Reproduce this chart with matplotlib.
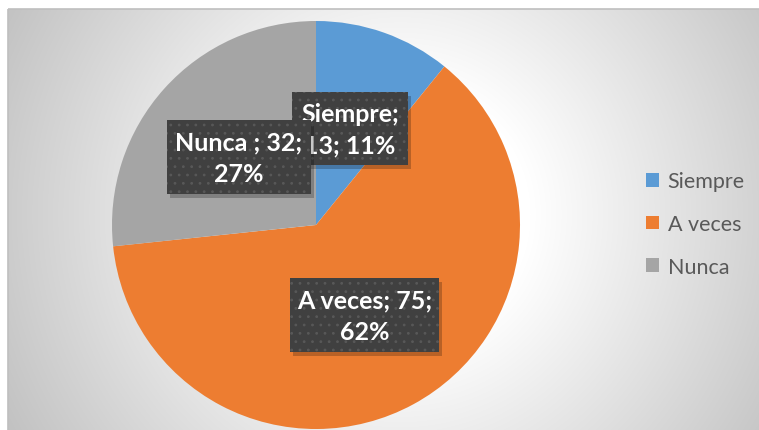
import numpy as np
import matplotlib
matplotlib.use('Agg')
import matplotlib.pyplot as plt
from matplotlib.patches import Rectangle

categorias = ['Siempre', 'A veces', 'Nunca']
valores = [13, 75, 32]
porcentajes = [11, 62, 27]
etiquetas = ['Siempre;\n13; 11%', 'A veces; 75;\n62%', 'Nunca ; 32;\n27%']
colores = ['#5B9BD5', '#ED7D31', '#A5A5A5']

W, H = 759, 431
fig = plt.figure(figsize=(W / 100, H / 100), dpi=100)
fig.patch.set_facecolor('white')

# fondo con degradado radial
bg = fig.add_axes([0, 0, 1, 1], zorder=0)
yy, xx = np.mgrid[0:H, 0:W]
r = np.hypot(xx - 400, yy - 215)
t = np.clip((r - 130) / 330, 0, 1)
g = 1 - 0.25 * t
g[(xx < 8) | (yy < 10)] = 1.0
bg.imshow(np.dstack([g, g, g]), extent=[0, W, H, 0], aspect='auto', interpolation='bilinear')
bg.add_patch(Rectangle((8, 10), W, H, fill=False, edgecolor='#bfbfbf', linewidth=1.2))
bg.set_xlim(0, W)
bg.set_ylim(H, 0)
bg.axis('off')

# pastel
cx, cy, rad = 316, 226, 204
ax = fig.add_axes([(cx - rad) / W, (H - cy - rad) / H, 2 * rad / W, 2 * rad / H], zorder=1)
ax.patch.set_alpha(0)
wedges, _ = ax.pie(valores, colors=colores, startangle=90, counterclock=False,
                   radius=1, wedgeprops=dict(linewidth=0))
ax.set_xlim(-1, 1)
ax.set_ylim(-1, 1)
ax.set_aspect('auto')
ax.axis('off')

# etiquetas de datos
ov = fig.add_axes([0, 0, 1, 1], zorder=2)
ov.patch.set_alpha(0)
ov.set_xlim(0, W)
ov.set_ylim(H, 0)
ov.axis('off')

cajas = [(292, 93, 116, 73), (290, 279, 149, 74), (167, 121, 144, 74)]
plt.rcParams['hatch.linewidth'] = 0.8
for i, (x, y, w, h) in enumerate(cajas):
    z = 3 + 3 * i
    ov.add_patch(Rectangle((x + 3, y + 4), w, h, facecolor='#000000', alpha=0.22,
                           linewidth=0, zorder=z))
    ov.add_patch(Rectangle((x, y), w, h, facecolor='#404040', edgecolor='#585858',
                           hatch='..', linewidth=0, zorder=z + 1))
    ov.text(x + w / 2, y + h / 2 + 1, etiquetas[i], ha='center', va='center',
            color='white', fontsize=18, fontweight='bold', family='Lato',
            linespacing=1.45, zorder=z + 2)

fig.legend(wedges, categorias, loc='center left', bbox_to_anchor=(646 / W, 1 - 225 / H),
           frameon=False, prop={'family': 'Lato', 'size': 15.5}, labelcolor='#595959',
           handlelength=0.6, handleheight=0.6, handletextpad=0.4, labelspacing=1.05,
           borderpad=0, borderaxespad=0)

fig.savefig('out.png', dpi=100)
